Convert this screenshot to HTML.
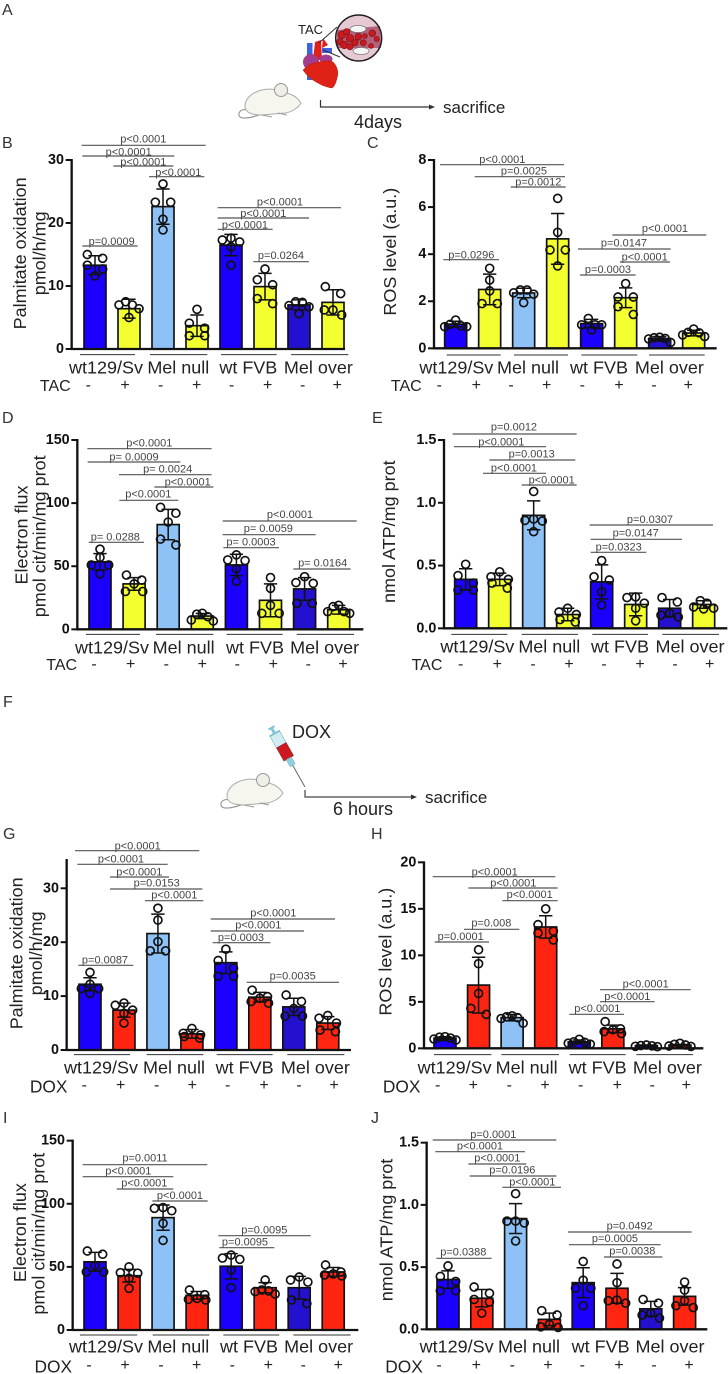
<!DOCTYPE html>
<html lang="en">
<head>
<meta charset="utf-8">
<title>Palmitate oxidation, ROS, electron flux and ATP after TAC and DOX</title>
<style>
html,body{margin:0;padding:0;background:#fff}
svg{display:block;font-family:"Liberation Sans",sans-serif}
.sig line{stroke:#555;stroke-width:3.5}
.sig text{font-size:33px;fill:#444;text-anchor:middle;dominant-baseline:central}
.grp{stroke:#333;stroke-width:3}
.cat{font-size:54px;fill:#222;text-anchor:middle;dominant-baseline:central}
.mk{font-size:48px;fill:#222;text-anchor:middle;dominant-baseline:central}
.dox{font-size:52px;fill:#222;text-anchor:middle;dominant-baseline:central}
.yt{font-size:54px;fill:#222;text-anchor:middle;dominant-baseline:central}
.tick{font-size:43px;font-weight:bold;fill:#111;text-anchor:end;dominant-baseline:central}
.letter{font-size:16px;fill:#333}
.note{font-size:18px;fill:#222}
.sac{font-size:17px;fill:#222}
</style>
</head>
<body>
<svg xmlns="http://www.w3.org/2000/svg" width="728" height="1374" viewBox="0 0 728 1374">
<rect width="728" height="1374" fill="#fff"/>

<!-- Panel A schematic -->
<g>
<text class="letter" x="2" y="15">A</text>
<text x="298" y="34" font-size="13" fill="#222">TAC</text>
<g>
<rect x="307" y="43" width="5.5" height="37" fill="#3f63e0"/>
<rect x="322" y="48" width="10" height="5" fill="#3f63e0"/>
<path d="M313 60 L315 42 L321 40 L322 60Z" fill="#e0201a"/>
<path d="M322 48 L323 38 L328 45Z" fill="#e0201a"/>
<ellipse cx="311" cy="62" rx="8" ry="8" fill="#a23c8e"/>
<ellipse cx="326" cy="59" rx="6.5" ry="4.5" fill="#a23c8e"/>
<path d="M303 70 C308 65 312 63 315 63 C322 61 330 60 333 62 C337 66 339 72 337 78 C336 83 334 87 332 88 C326 87 321 85 318 83 C312 80 307 76 303 70Z" fill="#de2216" stroke="#b81a10" stroke-width=".5"/>
</g>
<line x1="319" y1="43" x2="337" y2="27" stroke="#333" stroke-width="1"/>
<line x1="323" y1="50" x2="340" y2="57" stroke="#333" stroke-width="1"/>
<g>
<circle cx="358.7" cy="38" r="23" fill="#e6c9d3"/>
<path d="M337 30 L380 26 L381 48 L337 48Z" fill="#a9506a" opacity=".85"/>
<ellipse cx="358" cy="29" rx="8" ry="3.6" fill="#f5f5f5" stroke="#666" stroke-width=".6"/>
<ellipse cx="361" cy="51" rx="8" ry="3.6" fill="#f5f5f5" stroke="#666" stroke-width=".6"/>
<g fill="#c81a1e" stroke="#7a1015" stroke-width=".6">
<circle cx="341.7" cy="35" r="3.8"/><circle cx="346.7" cy="31.7" r="3.2"/><circle cx="340" cy="41.7" r="3.2"/><circle cx="344.3" cy="45" r="3.8"/><circle cx="350" cy="38.3" r="3.8"/><circle cx="350" cy="46.7" r="3.2"/><circle cx="355" cy="42.7" r="3.2"/><circle cx="358.3" cy="36.7" r="3.4"/><circle cx="363.3" cy="42.7" r="3"/><circle cx="365" cy="36" r="2.4"/><circle cx="372.3" cy="33.3" r="3.4"/><circle cx="376.7" cy="39" r="2.6"/><circle cx="371" cy="46" r="2.4"/>
</g>
<circle cx="358.7" cy="38" r="23" fill="none" stroke="#222" stroke-width="1.5"/>
</g>
<g>
<path d="M248 110 C240 108 237 114 240 117 C245 120 256 116 262 114" fill="none" stroke="#999" stroke-width="1.2"/>
<path d="M301 103 C297 97 292 94 286 93 C280 90 270 88 262 90 C252 92 245 99 245 106 C245 112 250 115 262 115 L285 113 C292 112 298 108 301 103Z" fill="#f6f6ef" stroke="#aaa" stroke-width="1"/>
<ellipse cx="281" cy="90" rx="6.5" ry="6.5" fill="#efefe8" stroke="#999" stroke-width="1"/>
<path d="M262 115 L272 117 M278 113 L287 115" stroke="#999" stroke-width="1" fill="none"/>
</g>
<path d="M320.5 100 V107 H431" fill="none" stroke="#333" stroke-width="1.2"/>
<path d="M429 104.5 L435 107 L429 109.5Z" fill="#333"/>
<text class="sac" x="443" y="113">sacrifice</text>
<text class="note" x="378" y="128" text-anchor="middle">4days</text>
</g>

<!-- Panel F schematic -->
<g>
<text class="letter" x="3" y="707">F</text>
<text class="note" x="292" y="738">DOX</text>
<g transform="translate(271 727) rotate(-29.5)">
<rect x="-3.5" y="0" width="7" height="2" fill="#7fc3d6"/>
<rect x="-1.5" y="2" width="3" height="5" fill="#7fc3d6"/>
<rect x="-6" y="6.5" width="12" height="1.6" fill="#7fc3d6"/>
<rect x="-5.5" y="8" width="11" height="13" fill="#d3ecf3" stroke="#6aa8ba" stroke-width=".5"/>
<rect x="-5.5" y="21" width="11" height="15" fill="#cc1a20" stroke="#8a1015" stroke-width=".5"/>
<rect x="-3" y="36" width="6" height="8" fill="#8fcfe0" stroke="#6aa8ba" stroke-width=".4"/>
<line x1="0" y1="44" x2="0" y2="69" stroke="#666" stroke-width="1"/>
</g>
<g transform="translate(-18 690)">
<path d="M248 110 C240 108 237 114 240 117 C245 120 256 116 262 114" fill="none" stroke="#999" stroke-width="1.2"/>
<path d="M301 103 C297 97 292 94 286 93 C280 90 270 88 262 90 C252 92 245 99 245 106 C245 112 250 115 262 115 L285 113 C292 112 298 108 301 103Z" fill="#f6f6ef" stroke="#aaa" stroke-width="1"/>
<ellipse cx="281" cy="90" rx="6.5" ry="6.5" fill="#efefe8" stroke="#999" stroke-width="1"/>
<path d="M262 115 L272 117 M278 113 L287 115" stroke="#999" stroke-width="1" fill="none"/>
</g>
<path d="M305 790 V797 H413" fill="none" stroke="#444" stroke-width="1.2"/>
<path d="M411 794.5 L417 797 L411 799.5Z" fill="#333"/>
<text class="sac" x="425" y="803">sacrifice</text>
<text class="note" x="363" y="815" text-anchor="middle">6 hours</text>
</g>

<text class="letter" x="2" y="148">B</text>
<text class="letter" x="367" y="148">C</text>
<text class="letter" x="2" y="423">D</text>
<text class="letter" x="372" y="423">E</text>
<text class="letter" x="3" y="839">G</text>
<text class="letter" x="371" y="839">H</text>
<text class="letter" x="3" y="1123">I</text>
<text class="letter" x="371" y="1123">J</text>

<!-- Panel B -->
<g id="panel-b" transform="translate(0 125) scale(0.33333)">
<text class="yt" transform="rotate(-90 60 385)" x="60" y="385">Palmitate oxidation</text>
<text class="yt" transform="rotate(-90 118 385)" x="118" y="385">pmol/h/mg</text>
<g class="sig"><line x1="245" x2="617" y1="61" y2="61"/><text x="430" y="44">p&lt;0.0001</text></g>
<g class="sig"><line x1="247" x2="523" y1="93" y2="93"/><text x="386" y="82">p&lt;0.0001</text></g>
<g class="sig"><line x1="340" x2="520" y1="123" y2="123"/><text x="430" y="113">p&lt;0.0001</text></g>
<g class="sig"><line x1="447" x2="613" y1="155" y2="155"/><text x="535" y="144">p&lt;0.0001</text></g>
<g class="sig"><line x1="247" x2="413" y1="363" y2="363"/><text x="335" y="351">p=0.0009</text></g>
<g class="sig"><line x1="653" x2="1023" y1="248" y2="248"/><text x="840" y="232">p&lt;0.0001</text></g>
<g class="sig"><line x1="653" x2="927" y1="279" y2="279"/><text x="790" y="267">p&lt;0.0001</text></g>
<g class="sig"><line x1="653" x2="818" y1="313" y2="313"/><text x="735" y="302">p&lt;0.0001</text></g>
<g class="sig"><line x1="760" x2="927" y1="410" y2="410"/><text x="843" y="393">p=0.0264</text></g>
<line class="grp" x1="240" x2="405" y1="689" y2="689"/><line class="grp" x1="450" x2="622" y1="689" y2="689"/><line class="grp" x1="663" x2="830" y1="689" y2="689"/><line class="grp" x1="873" x2="1045" y1="689" y2="689"/>
<text class="cat" x="318" y="727">wt129/Sv</text><text class="cat" x="535" y="727">Mel null</text><text class="cat" x="745" y="727">wt FVB</text><text class="cat" x="955" y="727">Mel over</text>
<text class="mk" x="166" y="785">TAC</text>
<text class="mk" x="265" y="782">-</text><text class="mk" x="375" y="782">+</text><text class="mk" x="482" y="782">-</text><text class="mk" x="590" y="782">+</text><text class="mk" x="695" y="782">-</text><text class="mk" x="803" y="782">+</text><text class="mk" x="908" y="782">-</text><text class="mk" x="1012" y="782">+</text>
</g>

<!-- Panel C -->
<g id="panel-c" transform="translate(364 125) scale(0.33333)">
<text class="yt" transform="rotate(-90 78 380)" x="78" y="380">ROS level (a.u.)</text>
<g class="sig"><line x1="228" x2="600" y1="119" y2="119"/><text x="415" y="105">p&lt;0.0001</text></g>
<g class="sig"><line x1="332" x2="603" y1="155" y2="155"/><text x="480" y="140">p=0.0025</text></g>
<g class="sig"><line x1="440" x2="605" y1="186" y2="186"/><text x="523" y="172">p=0.0012</text></g>
<g class="sig"><line x1="238" x2="405" y1="404" y2="404"/><text x="322" y="392">p=0.0296</text></g>
<g class="sig"><line x1="745" x2="1027" y1="330" y2="330"/><text x="903" y="312">p&lt;0.0001</text></g>
<g class="sig"><line x1="642" x2="920" y1="372" y2="372"/><text x="780" y="356">p=0.0147</text></g>
<g class="sig"><line x1="768" x2="918" y1="411" y2="411"/><text x="842" y="397">p&lt;0.0001</text></g>
<g class="sig"><line x1="648" x2="815" y1="450" y2="450"/><text x="732" y="435">p=0.0003</text></g>
<line class="grp" x1="248" x2="410" y1="690" y2="690"/><line class="grp" x1="450" x2="612" y1="690" y2="690"/><line class="grp" x1="652" x2="820" y1="690" y2="690"/><line class="grp" x1="855" x2="1022" y1="690" y2="690"/>
<text class="cat" x="277" y="727">wt129/Sv</text><text class="cat" x="492" y="727">Mel null</text><text class="cat" x="705" y="727">wt FVB</text><text class="cat" x="916" y="727">Mel over</text>
<text class="mk" x="127" y="785">TAC</text>
<text class="mk" x="226" y="782">-</text><text class="mk" x="337" y="782">+</text><text class="mk" x="441" y="782">-</text><text class="mk" x="548" y="782">+</text><text class="mk" x="655" y="782">-</text><text class="mk" x="765" y="782">+</text><text class="mk" x="870" y="782">-</text><text class="mk" x="973" y="782">+</text>
</g>

<!-- Panel D -->
<g id="panel-d" transform="translate(0 395) scale(0.33333)">
<text class="yt" transform="rotate(-90 65 420)" x="65" y="420">Electron flux</text>
<text class="yt" transform="rotate(-90 118 424)" x="118" y="424">pmol cit/min/mg prot</text>
<g class="sig"><line x1="262" x2="635" y1="161" y2="161"/><text x="448" y="145">p&lt;0.0001</text></g>
<g class="sig"><line x1="263" x2="541" y1="201" y2="201"/><text x="402" y="187">p= 0.0009</text></g>
<g class="sig"><line x1="357" x2="635" y1="239" y2="239"/><text x="503" y="224">p= 0.0024</text></g>
<g class="sig"><line x1="463" x2="640" y1="276" y2="276"/><text x="563" y="262">p&lt;0.0001</text></g>
<g class="sig"><line x1="358" x2="535" y1="316" y2="316"/><text x="445" y="299">p&lt;0.0001</text></g>
<g class="sig"><line x1="266" x2="432" y1="442" y2="442"/><text x="346" y="428">p= 0.0288</text></g>
<g class="sig"><line x1="668" x2="1070" y1="378" y2="378"/><text x="870" y="360">p&lt;0.0001</text></g>
<g class="sig"><line x1="668" x2="947" y1="419" y2="419"/><text x="805" y="402">p= 0.0059</text></g>
<g class="sig"><line x1="670" x2="837" y1="458" y2="458"/><text x="753" y="442">p= 0.0003</text></g>
<g class="sig"><line x1="880" x2="1052" y1="522" y2="522"/><text x="968" y="506">p= 0.0164</text></g>
<line class="grp" x1="258" x2="420" y1="718" y2="718"/><line class="grp" x1="468" x2="640" y1="718" y2="718"/><line class="grp" x1="680" x2="848" y1="718" y2="718"/><line class="grp" x1="890" x2="1062" y1="718" y2="718"/>
<text class="cat" x="336" y="757">wt129/Sv</text><text class="cat" x="551" y="757">Mel null</text><text class="cat" x="765" y="757">wt FVB</text><text class="cat" x="974" y="757">Mel over</text>
<text class="mk" x="185" y="812">TAC</text>
<text class="mk" x="282" y="809">-</text><text class="mk" x="392" y="809">+</text><text class="mk" x="499" y="809">-</text><text class="mk" x="607" y="809">+</text><text class="mk" x="712" y="809">-</text><text class="mk" x="820" y="809">+</text><text class="mk" x="925" y="809">-</text><text class="mk" x="1029" y="809">+</text>
</g>

<!-- Panel E -->
<g id="panel-e" transform="translate(364 395) scale(0.33333)">
<text class="yt" transform="rotate(-90 75 410)" x="75" y="410">nmol ATP/mg prot</text>
<g class="sig"><line x1="266" x2="638" y1="117" y2="117"/><text x="450" y="98">p=0.0012</text></g>
<g class="sig"><line x1="270" x2="546" y1="155" y2="155"/><text x="412" y="142">p&lt;0.0001</text></g>
<g class="sig"><line x1="376" x2="634" y1="195" y2="195"/><text x="503" y="178">p=0.0013</text></g>
<g class="sig"><line x1="357" x2="546" y1="235" y2="235"/><text x="450" y="220">p&lt;0.0001</text></g>
<g class="sig"><line x1="473" x2="638" y1="270" y2="270"/><text x="563" y="256">p&lt;0.0001</text></g>
<g class="sig"><line x1="677" x2="1047" y1="390" y2="390"/><text x="858" y="375">p=0.0307</text></g>
<g class="sig"><line x1="680" x2="954" y1="433" y2="433"/><text x="815" y="415">p=0.0147</text></g>
<g class="sig"><line x1="680" x2="847" y1="472" y2="472"/><text x="764" y="457">p=0.0323</text></g>
<line class="grp" x1="262" x2="430" y1="718" y2="718"/><line class="grp" x1="473" x2="642" y1="718" y2="718"/><line class="grp" x1="685" x2="852" y1="718" y2="718"/><line class="grp" x1="895" x2="1065" y1="718" y2="718"/>
<text class="cat" x="340" y="755">wt129/Sv</text><text class="cat" x="556" y="755">Mel null</text><text class="cat" x="768" y="755">wt FVB</text><text class="cat" x="978" y="755">Mel over</text>
<text class="mk" x="189" y="812">TAC</text>
<text class="mk" x="290" y="809">-</text><text class="mk" x="400" y="809">+</text><text class="mk" x="507" y="809">-</text><text class="mk" x="615" y="809">+</text><text class="mk" x="720" y="809">-</text><text class="mk" x="828" y="809">+</text><text class="mk" x="933" y="809">-</text><text class="mk" x="1037" y="809">+</text>
</g>

<!-- Panel G -->
<g id="panel-g" transform="translate(0 825) scale(0.33333)">
<text class="yt" transform="rotate(-90 50 385)" x="50" y="385">Palmitate oxidation</text>
<text class="yt" transform="rotate(-90 108 385)" x="108" y="385">pmol/h/mg</text>
<g class="sig"><line x1="225" x2="598" y1="77" y2="77"/><text x="413" y="64">p&lt;0.0001</text></g>
<g class="sig"><line x1="232" x2="503" y1="118" y2="118"/><text x="363" y="104">p&lt;0.0001</text></g>
<g class="sig"><line x1="330" x2="507" y1="156" y2="156"/><text x="418" y="143">p&lt;0.0001</text></g>
<g class="sig"><line x1="330" x2="607" y1="192" y2="192"/><text x="470" y="176">p=0.0153</text></g>
<g class="sig"><line x1="435" x2="610" y1="227" y2="227"/><text x="523" y="211">p&lt;0.0001</text></g>
<g class="sig"><line x1="235" x2="400" y1="421" y2="421"/><text x="315" y="406">p=0.0087</text></g>
<g class="sig"><line x1="632" x2="1005" y1="282" y2="282"/><text x="820" y="265">p&lt;0.0001</text></g>
<g class="sig"><line x1="632" x2="912" y1="318" y2="318"/><text x="775" y="301">p&lt;0.0001</text></g>
<g class="sig"><line x1="638" x2="811" y1="353" y2="353"/><text x="723" y="339">p=0.0003</text></g>
<g class="sig"><line x1="740" x2="1017" y1="472" y2="472"/><text x="878" y="455">p=0.0035</text></g>
<line class="grp" x1="222" x2="390" y1="689" y2="689"/><line class="grp" x1="440" x2="610" y1="689" y2="689"/><line class="grp" x1="650" x2="818" y1="689" y2="689"/><line class="grp" x1="862" x2="1033" y1="689" y2="689"/>
<text class="cat" x="303" y="727">wt129/Sv</text><text class="cat" x="522" y="727">Mel null</text><text class="cat" x="734" y="727">wt FVB</text><text class="cat" x="946" y="727">Mel over</text>
<text class="dox" x="146" y="785">DOX</text>
<text class="mk" x="253" y="782">-</text><text class="mk" x="362" y="782">+</text><text class="mk" x="470" y="782">-</text><text class="mk" x="577" y="782">+</text><text class="mk" x="683" y="782">-</text><text class="mk" x="792" y="782">+</text><text class="mk" x="897" y="782">-</text><text class="mk" x="1002" y="782">+</text>
</g>

<!-- Panel H -->
<g id="panel-h" transform="translate(364 825) scale(0.33333)">
<text class="yt" transform="rotate(-90 65 380)" x="65" y="380">ROS level (a.u.)</text>
<g class="sig"><line x1="206" x2="574" y1="155" y2="155"/><text x="392" y="142">p&lt;0.0001</text></g>
<g class="sig"><line x1="313" x2="581" y1="189" y2="189"/><text x="448" y="176">p&lt;0.0001</text></g>
<g class="sig"><line x1="415" x2="581" y1="227" y2="227"/><text x="497" y="210">p&lt;0.0001</text></g>
<g class="sig"><line x1="300" x2="466" y1="313" y2="313"/><text x="382" y="296">p=0.008</text></g>
<g class="sig"><line x1="212" x2="375" y1="351" y2="351"/><text x="290" y="336">p=0.0001</text></g>
<g class="sig"><line x1="708" x2="980" y1="494" y2="494"/><text x="845" y="478">p&lt;0.0001</text></g>
<g class="sig"><line x1="708" x2="872" y1="530" y2="530"/><text x="790" y="516">p&lt;0.0001</text></g>
<g class="sig"><line x1="616" x2="780" y1="568" y2="568"/><text x="700" y="552">p&lt;0.0001</text></g>
<line class="grp" x1="210" x2="382" y1="689" y2="689"/><line class="grp" x1="412" x2="585" y1="689" y2="689"/><line class="grp" x1="617" x2="785" y1="689" y2="689"/><line class="grp" x1="817" x2="987" y1="689" y2="689"/>
<text class="cat" x="272" y="727">wt129/Sv</text><text class="cat" x="488" y="727">Mel null</text><text class="cat" x="701" y="727">wt FVB</text><text class="cat" x="910" y="727">Mel over</text>
<text class="dox" x="113" y="785">DOX</text>
<text class="mk" x="221" y="782">-</text><text class="mk" x="328" y="782">+</text><text class="mk" x="436" y="782">-</text><text class="mk" x="543" y="782">+</text><text class="mk" x="650" y="782">-</text><text class="mk" x="760" y="782">+</text><text class="mk" x="865" y="782">-</text><text class="mk" x="967" y="782">+</text>
</g>

<!-- Panel I -->
<g id="panel-i" transform="translate(0 1100) scale(0.33333)">
<text class="yt" transform="rotate(-90 60 398)" x="60" y="398">Electron flux</text>
<text class="yt" transform="rotate(-90 115 401)" x="115" y="401">pmol cit/min/mg prot</text>
<g class="sig"><line x1="248" x2="622" y1="194" y2="194"/><text x="435" y="176">p=0.0011</text></g>
<g class="sig"><line x1="248" x2="520" y1="230" y2="230"/><text x="385" y="214">p&lt;0.0001</text></g>
<g class="sig"><line x1="350" x2="520" y1="267" y2="267"/><text x="433" y="251">p&lt;0.0001</text></g>
<g class="sig"><line x1="457" x2="623" y1="303" y2="303"/><text x="540" y="288">p&lt;0.0001</text></g>
<g class="sig"><line x1="655" x2="932" y1="407" y2="407"/><text x="793" y="392">p=0.0095</text></g>
<g class="sig"><line x1="658" x2="823" y1="443" y2="443"/><text x="735" y="427">p=0.0095</text></g>
<line class="grp" x1="240" x2="412" y1="705" y2="705"/><line class="grp" x1="458" x2="628" y1="705" y2="705"/><line class="grp" x1="670" x2="838" y1="705" y2="705"/><line class="grp" x1="880" x2="1052" y1="705" y2="705"/>
<text class="cat" x="318" y="740">wt129/Sv</text><text class="cat" x="535" y="740">Mel null</text><text class="cat" x="747" y="740">wt FVB</text><text class="cat" x="956" y="740">Mel over</text>
<text class="dox" x="160" y="800">DOX</text>
<text class="mk" x="267" y="796">-</text><text class="mk" x="375" y="796">+</text><text class="mk" x="483" y="796">-</text><text class="mk" x="590" y="796">+</text><text class="mk" x="697" y="796">-</text><text class="mk" x="805" y="796">+</text><text class="mk" x="910" y="796">-</text><text class="mk" x="1015" y="796">+</text>
</g>

<!-- Panel J -->
<g id="panel-j" transform="translate(364 1100) scale(0.33333)">
<text class="yt" transform="rotate(-90 68 390)" x="68" y="390">nmol ATP/mg prot</text>
<g class="sig"><line x1="206" x2="577" y1="120" y2="120"/><text x="388" y="105">p=0.0001</text></g>
<g class="sig"><line x1="214" x2="483" y1="155" y2="155"/><text x="348" y="140">p&lt;0.0001</text></g>
<g class="sig"><line x1="313" x2="487" y1="192" y2="192"/><text x="400" y="175">p&lt;0.0001</text></g>
<g class="sig"><line x1="317" x2="577" y1="228" y2="228"/><text x="445" y="212">p=0.0196</text></g>
<g class="sig"><line x1="415" x2="591" y1="262" y2="262"/><text x="505" y="247">p&lt;0.0001</text></g>
<g class="sig"><line x1="217" x2="383" y1="475" y2="475"/><text x="298" y="458">p=0.0388</text></g>
<g class="sig"><line x1="612" x2="983" y1="396" y2="396"/><text x="797" y="379">p=0.0492</text></g>
<g class="sig"><line x1="615" x2="890" y1="434" y2="434"/><text x="753" y="417">p=0.0005</text></g>
<g class="sig"><line x1="720" x2="895" y1="471" y2="471"/><text x="805" y="455">p=0.0038</text></g>
<text class="cat" x="278" y="740">wt129/Sv</text><text class="cat" x="495" y="740">Mel null</text><text class="cat" x="710" y="740">wt FVB</text><text class="cat" x="918" y="740">Mel over</text>
<text class="dox" x="120" y="800">DOX</text>
<text class="mk" x="225" y="796">-</text><text class="mk" x="337" y="796">+</text><text class="mk" x="445" y="796">-</text><text class="mk" x="552" y="796">+</text><text class="mk" x="655" y="796">-</text><text class="mk" x="765" y="796">+</text><text class="mk" x="870" y="796">-</text><text class="mk" x="975" y="796">+</text>
</g>
</svg>

<script>
var barCategories = ['wt129/Sv -', 'wt129/Sv +', 'Mel null -', 'Mel null +', 'wt FVB -', 'wt FVB +', 'Mel over -', 'Mel over +'];

var panelBTicks = ['0', '10', '20', '30'];
var panelBMeans = [13.3, 6.4, 22.6, 3.7, 16.5, 9.9, 7.0, 7.4];
var panelBSds = [1.5, 1.5, 2.8, 1.7, 1.7, 2.1, 0.8, 2.0];
var panelBPoints = [[15, 14.4, 13.3, 12.7, 11.6], [7.5, 7, 7, 6.4, 5], [26.2, 23.3, 23.3, 20.6, 18.9], [6.3, 4.1, 3.3, 2.1, 2.1], [17.6, 17.3, 17, 16.2, 13.3], [12.7, 11, 10.2, 8, 7.2], [7.5, 7.4, 6.9, 6.7, 5.6], [9.9, 8.8, 6.2, 6.2, 5.4]];

var panelCTicks = ['0', '2', '4', '6', '8'];
var panelCMeans = [1.03, 2.5, 2.35, 4.65, 1.05, 2.15, 0.42, 0.65];
var panelCSds = [0.12, 0.65, 0.2, 1.08, 0.18, 0.42, 0.08, 0.12];
var panelCPoints = [[1.2, 1.02, 0.95, 0.92, 0.92], [3.4, 2.9, 2.44, 1.9, 1.9], [2.48, 2.48, 2.36, 2.3, 1.94], [6.37, 4.93, 4.18, 4.18, 3.5], [1.27, 1, 1, 1, 0.78], [2.75, 2.18, 2.18, 1.77, 1.44], [0.47, 0.45, 0.42, 0.4, 0.25], [0.82, 0.68, 0.66, 0.57, 0.5]];

var panelDTicks = ['0', '50', '100', '150'];
var panelDMeans = [53.5, 36, 83, 10.5, 51, 23, 32, 15.5];
var panelDSds = [6.5, 5, 12, 2, 8.5, 13, 9, 3.5];
var panelDPoints = [[63.5, 57, 51, 51, 44], [43, 39, 36, 30, 30], [96.7, 92, 85, 71.5, 66.8], [12.7, 12, 10, 7.4, 6.6], [59, 55, 54.5, 48, 38], [41, 32.5, 19, 12.7, 12.7], [41.7, 37, 36.4, 20.6, 20.6], [19, 18, 14, 14, 12.7]];

var panelETicks = ['0.0', '0.5', '1.0', '1.5'];
var panelEMeans = [0.39, 0.39, 0.9, 0.11, 0.37, 0.19, 0.16, 0.19];
var panelESds = [0.085, 0.05, 0.115, 0.05, 0.135, 0.09, 0.07, 0.03];
var panelEPoints = [[0.51, 0.42, 0.36, 0.305, 0.305], [0.45, 0.41, 0.39, 0.36, 0.32], [1.09, 0.87, 0.86, 0.855, 0.77], [0.16, 0.13, 0.11, 0.07, 0.05], [0.54, 0.41, 0.385, 0.29, 0.185], [0.25, 0.245, 0.2, 0.16, 0.06], [0.245, 0.21, 0.12, 0.105, 0.09], [0.22, 0.2, 0.17, 0.16, 0.155]];

var panelGTicks = ['0', '10', '20', '30'];
var panelGMeans = [12.2, 7.4, 21.6, 3, 16.2, 9.8, 8, 5];
var panelGSds = [1.2, 1.3, 3.6, 0.8, 2, 0.9, 1.6, 1.2];
var panelGPoints = [[14.4, 12.2, 11.4, 11.4, 10.5], [8.7, 8.3, 7.4, 6.8, 5], [26.3, 24.1, 20.1, 18.4, 18.4], [4, 3.1, 2.8, 2.5, 2.2], [18.7, 16.6, 15.2, 13.7, 13.7], [11.1, 9.9, 9.6, 9, 8.7], [10.2, 9, 7.7, 6.3, 6.3], [6.4, 5.9, 5, 3.7, 3.4]];

var panelHTicks = ['0', '5', '10', '15', '20'];
var panelHMeans = [1.1, 6.8, 3.3, 13.05, 0.7, 2.1, 0.3, 0.35];
var panelHSds = [0.15, 3, 0.35, 1.2, 0.2, 0.4, 0.06, 0.08];
var panelHPoints = [[1.25, 1.2, 1.1, 1, 0.9], [10.6, 9.1, 5.9, 4.3, 3.65], [3.5, 3.4, 3.3, 3.2, 2.7], [15, 13.3, 12.6, 12.4, 11.65], [0.97, 0.7, 0.65, 0.55, 0.45], [2.87, 2.1, 2, 1.8, 1.6], [0.36, 0.3, 0.27, 0.22, 0.18], [0.54, 0.43, 0.36, 0.25, 0.2]];

var panelITicks = ['0', '50', '100', '150'];
var panelIMeans = [54, 43, 89, 27.5, 50.5, 33.5, 33.5, 46];
var panelISds = [7.5, 5, 10, 3, 10, 4, 9, 3.5];
var panelIPoints = [[62.6, 60, 51, 46, 46], [50, 45.4, 45, 41, 33], [97, 96.4, 94.5, 84.5, 71], [31.7, 28, 25, 24.3, 23.8], [59.4, 57, 56, 47.5, 33.5], [39.6, 31.7, 31, 30.4, 28.5], [42, 39.6, 38, 23.8, 21], [51.5, 46, 44.4, 43.6, 42.8]];

var panelJTicks = ['0.0', '0.5', '1.0', '1.5'];
var panelJMeans = [0.4, 0.25, 0.89, 0.08, 0.375, 0.33, 0.165, 0.265];
var panelJSds = [0.07, 0.07, 0.12, 0.05, 0.12, 0.12, 0.06, 0.07];
var panelJPoints = [[0.51, 0.425, 0.385, 0.31, 0.31], [0.34, 0.29, 0.24, 0.22, 0.13], [1.09, 0.87, 0.87, 0.855, 0.71], [0.15, 0.115, 0.04, 0.02, 0.015], [0.545, 0.395, 0.33, 0.33, 0.19], [0.525, 0.375, 0.235, 0.23, 0.21], [0.24, 0.21, 0.13, 0.115, 0.09], [0.38, 0.315, 0.23, 0.19, 0.175]];

var SVG_NS = 'http://www.w3.org/2000/svg';
var BLUE = '#1b00ff', LIGHT = '#8ec2f7', DARK = '#2410cf', YELLOW = '#f4ff2f', RED = '#ff2510';

function make(tag, parent, attrs) {
  var el = document.createElementNS(SVG_NS, tag);
  for (var k in attrs) el.setAttribute(k, attrs[k]);
  parent.appendChild(el);
  return el;
}

/* Prism-style binned scatter: values that land close together fan out symmetrically. */
function swarmOffsets(vals, y) {
  var order = vals.map(function (v, i) { return i; }).sort(function (a, b) { return y(vals[a]) - y(vals[b]); });
  var widths = [0, 0, 46, 52, 60, 66];
  var out = vals.map(function () { return 0; });
  var bins = [];
  order.forEach(function (idx) {
    var last = bins[bins.length - 1];
    if (last && y(vals[idx]) - y(vals[last[0]]) <= 24) last.push(idx);
    else bins.push([idx]);
  });
  bins.forEach(function (bin) {
    var n = bin.length;
    if (n < 2) return;
    var slots = [];
    for (var s = 0; s < n; s++) slots.push(s - (n - 1) / 2);
    slots.sort(function (a, b) { return Math.abs(a) - Math.abs(b) || a - b; });
    bin.forEach(function (idx, j) {
      out[idx] = slots[j] * widths[Math.min(n, 5)] / (n - 1);
    });
  });
  return out;
}

function drawPanel(id, geo, ticks, means, sds, points, treatColor) {
  var panel = document.getElementById(id);
  var colors = [BLUE, treatColor, LIGHT, treatColor, BLUE, treatColor, DARK, treatColor];
  var yScale = function (v) { return geo.y0 - v * (geo.y0 - geo.yTop) / geo.vmax; };
  var xScale = function (i) { return geo.first + i * geo.step; };
  var halfBar = 33, cap = 20;

  means.forEach(function (m, i) {
    var top = yScale(m);
    var bar = make('rect', panel, { x: xScale(i) - halfBar, y: top, width: halfBar * 2, height: geo.y0 - top, fill: colors[i], stroke: '#111', 'stroke-width': 5 });
    
    
  });

  points.forEach(function (vals, i) {
    var offs = swarmOffsets(vals, yScale);
    vals.forEach(function (v, j) {
      var dot = make('circle', panel, { cx: xScale(i) + offs[j], cy: yScale(v), r: 12, fill: 'none', stroke: '#111', 'stroke-width': 5 });
      
      
    });
  });

  means.forEach(function (m, i) {
    var cx = xScale(i), hi = yScale(m + sds[i]), lo = yScale(m - sds[i]);
    var err = make('path', panel, { d: 'M' + cx + ' ' + lo + 'V' + hi + 'M' + (cx - cap) + ' ' + hi + 'H' + (cx + cap) + 'M' + (cx - cap) + ' ' + lo + 'H' + (cx + cap), fill: 'none', stroke: '#111', 'stroke-width': 4.5 });
    
    
  });

  var yAxis = make('line', panel, { x1: geo.ax, x2: geo.ax, y1: geo.axisTop - 3, y2: geo.y0 + 3, stroke: '#111', 'stroke-width': 7 });
  
  
  var xAxis = make('line', panel, { x1: geo.ax - 3, x2: geo.end, y1: geo.y0, y2: geo.y0, stroke: '#111', 'stroke-width': 7 });
  
  

  ticks.forEach(function (label) {
    var py = yScale(parseFloat(label));
    var tick = make('line', panel, { x1: geo.ax - 18, x2: geo.ax, y1: py, y2: py, stroke: '#111', 'stroke-width': 6 });
    
    
    var txt = make('text', panel, { 'class': 'tick', x: geo.ax - 23, y: py });
    txt.textContent = label;
    
    
  });
}

drawPanel('panel-b', { ax: 215, y0: 672, yTop: 105, axisTop: 105, vmax: 30, end: 1035, first: 285, step: 102 }, panelBTicks, panelBMeans, panelBSds, panelBPoints, YELLOW);
drawPanel('panel-c', { ax: 210, y0: 670, yTop: 105, axisTop: 105, vmax: 8, end: 1058, first: 275, step: 102 }, panelCTicks, panelCMeans, panelCSds, panelCPoints, YELLOW);
drawPanel('panel-d', { ax: 232, y0: 703, yTop: 135, axisTop: 135, vmax: 150, end: 1090, first: 300, step: 102.3 }, panelDTicks, panelDMeans, panelDSds, panelDPoints, YELLOW);
drawPanel('panel-e', { ax: 240, y0: 700, yTop: 135, axisTop: 135, vmax: 1.5, end: 1090, first: 305, step: 102 }, panelETicks, panelEMeans, panelESds, panelEPoints, YELLOW);
drawPanel('panel-g', { ax: 200, y0: 675, yTop: 109, axisTop: 105, vmax: 35, end: 1053, first: 270, step: 101.9 }, panelGTicks, panelGMeans, panelGSds, panelGPoints, RED);
drawPanel('panel-h', { ax: 180, y0: 670, yTop: 112, axisTop: 112, vmax: 20, end: 1018, first: 243, step: 100.7 }, panelHTicks, panelHMeans, panelHSds, panelHPoints, RED);
drawPanel('panel-i', { ax: 218, y0: 690, yTop: 122, axisTop: 122, vmax: 150, end: 1075, first: 285, step: 102.1 }, panelITicks, panelIMeans, panelISds, panelIPoints, RED);
drawPanel('panel-j', { ax: 188, y0: 688, yTop: 128, axisTop: 128, vmax: 1.5, end: 1030, first: 252, step: 101.4 }, panelJTicks, panelJMeans, panelJSds, panelJPoints, RED);
</script>
</body>
</html>
